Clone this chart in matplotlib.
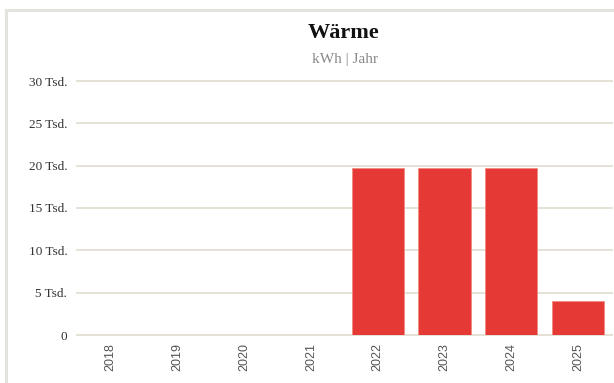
import matplotlib
matplotlib.use("Agg")
import matplotlib.pyplot as plt
import matplotlib.patches as mpatches
import numpy as np
from matplotlib.ticker import FuncFormatter

years = ["2018", "2019", "2020", "2021", "2022", "2023", "2024", "2025"]
heat_kwh = [0, 0, 0, 0, 19750, 19750, 19750, 4000]
y_ticks = [0, 5000, 10000, 15000, 20000, 25000, 30000]

BAR_COLOR = "#e53935"
GRID_COLOR = "#e2dccf"
SERIF = ["Liberation Serif", "DejaVu Serif"]

W, H = 614, 383
fig = plt.figure(figsize=(W / 100, H / 100), dpi=100)

# card frame
card = mpatches.Rectangle((6 / W, -0.05), 1.2, 1 - 10 / H + 0.05,
                          transform=fig.transFigure, facecolor="none",
                          edgecolor="#e4e4de", linewidth=2.2, zorder=0)
fig.patches.append(card)

ax = fig.add_axes([77 / W, 1 - 335 / H, (611.5 - 77) / W, (335 - 81) / H])
ax.set_facecolor("none")
ax.set_zorder(2)

x = np.arange(len(years))
ax.bar(x, heat_kwh, width=0.78, color=BAR_COLOR, edgecolor="#f28b82",
       linewidth=0.6, zorder=3)

ax.set_xlim(-0.5, len(years) - 0.5)
ax.set_ylim(0, 30000)
ax.set_yticks(y_ticks)
ax.yaxis.set_major_formatter(
    FuncFormatter(lambda v, _: "0" if v == 0 else f"{int(v / 1000)} Tsd."))
ax.grid(axis="y", color=GRID_COLOR, linewidth=1.2, zorder=0)
ax.set_axisbelow(True)
# keep the baseline gridline from being clipped in half
for gl in ax.yaxis.get_gridlines():
    gl.set_clip_on(False)

ax.set_xticks(x)
ax.set_xticklabels(years, rotation=90, family=["Liberation Sans", "DejaVu Sans"],
                   fontsize=9, color="#555555")
for lbl in ax.get_yticklabels():
    lbl.set_family(SERIF)
    lbl.set_fontsize(9.5)
    lbl.set_color("#333333")

ax.tick_params(axis="both", length=0)
ax.tick_params(axis="y", pad=7)
ax.tick_params(axis="x", pad=6)
for s in ax.spines.values():
    s.set_visible(False)

fig.text(344 / W, 1 - 33.5 / H, "Wärme", ha="center", va="center",
         family=SERIF, fontsize=16, fontweight="bold", color="#111111")
fig.text(345 / W, 1 - 59 / H, "kWh | Jahr", ha="center", va="center",
         family=SERIF, fontsize=11, color="#888888")

fig.savefig("out.png", dpi=100)
